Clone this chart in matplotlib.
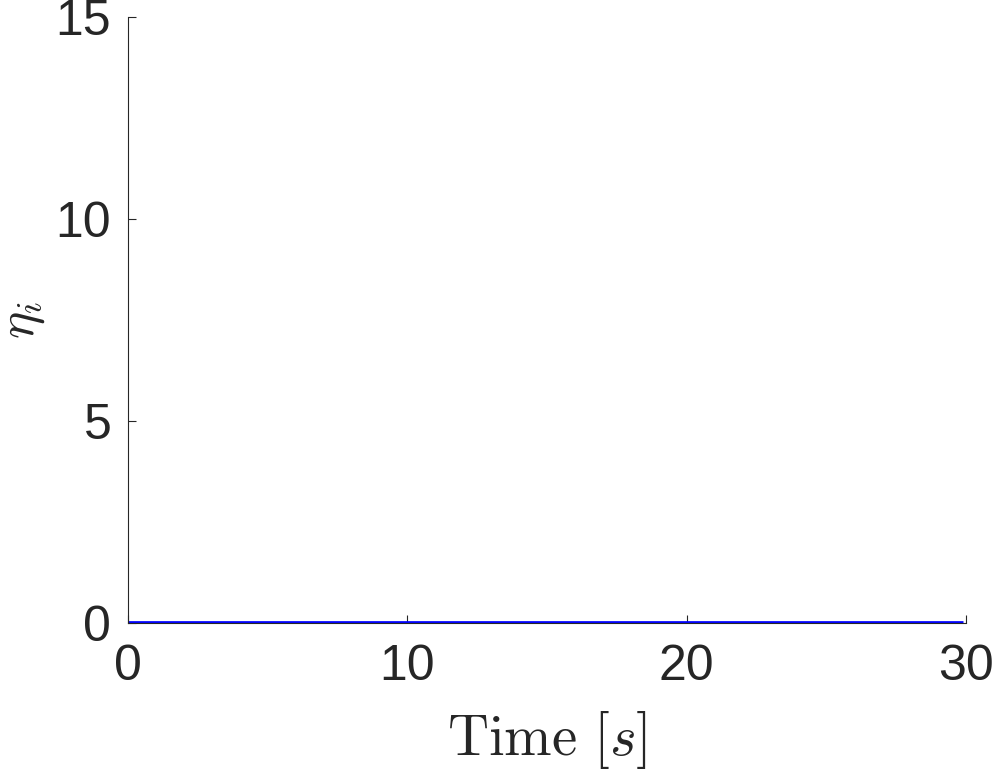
import numpy as np
import matplotlib
matplotlib.use('Agg')
import matplotlib.pyplot as plt

# simulation output, eta_i stays at zero over the run
time = [0.0, 29.9]
eta = [0.0, 0.0]

x_ticks = [0, 10, 20, 30]
y_ticks = [0, 5, 10, 15]

plt.rcParams['mathtext.fontset'] = 'cm'
plt.rcParams['font.family'] = ['Liberation Sans', 'DejaVu Sans']

fig = plt.figure(figsize=(9.97, 7.73), dpi=100)
ax = fig.add_axes([0.1284, 0.194, 0.8406, 0.784])

ax.plot(time, eta, color=(0, 0, 1), linewidth=3.4, solid_capstyle='butt')

ax.set_xlim(0, 30)
ax.set_ylim(0, 15)
ax.set_xticks(x_ticks)
ax.set_yticks(y_ticks)

ax.spines['top'].set_visible(False)
ax.spines['right'].set_visible(False)
for s in ['left', 'bottom']:
    ax.spines[s].set_color('#262626')
    ax.spines[s].set_linewidth(0.8)

ax.tick_params(axis='x', direction='in', length=6, width=0.8, color='#262626', labelcolor='#262626', labelsize=36, pad=15)
ax.tick_params(axis='y', direction='in', length=6, width=0.8, color='#262626', labelcolor='#262626', labelsize=36, pad=12)

ax.set_xlabel(r'$\mathrm{Time}\ [s]$', fontsize=41, color='#262626', va='top')
ax.set_ylabel(r'$\eta_i$', fontsize=37, color='#262626')
ax.xaxis.set_label_coords(0.5, -0.142)
ax.yaxis.set_label_coords(-0.097, 0.5)

fig.savefig('out.png', dpi=100)
plt.close()
